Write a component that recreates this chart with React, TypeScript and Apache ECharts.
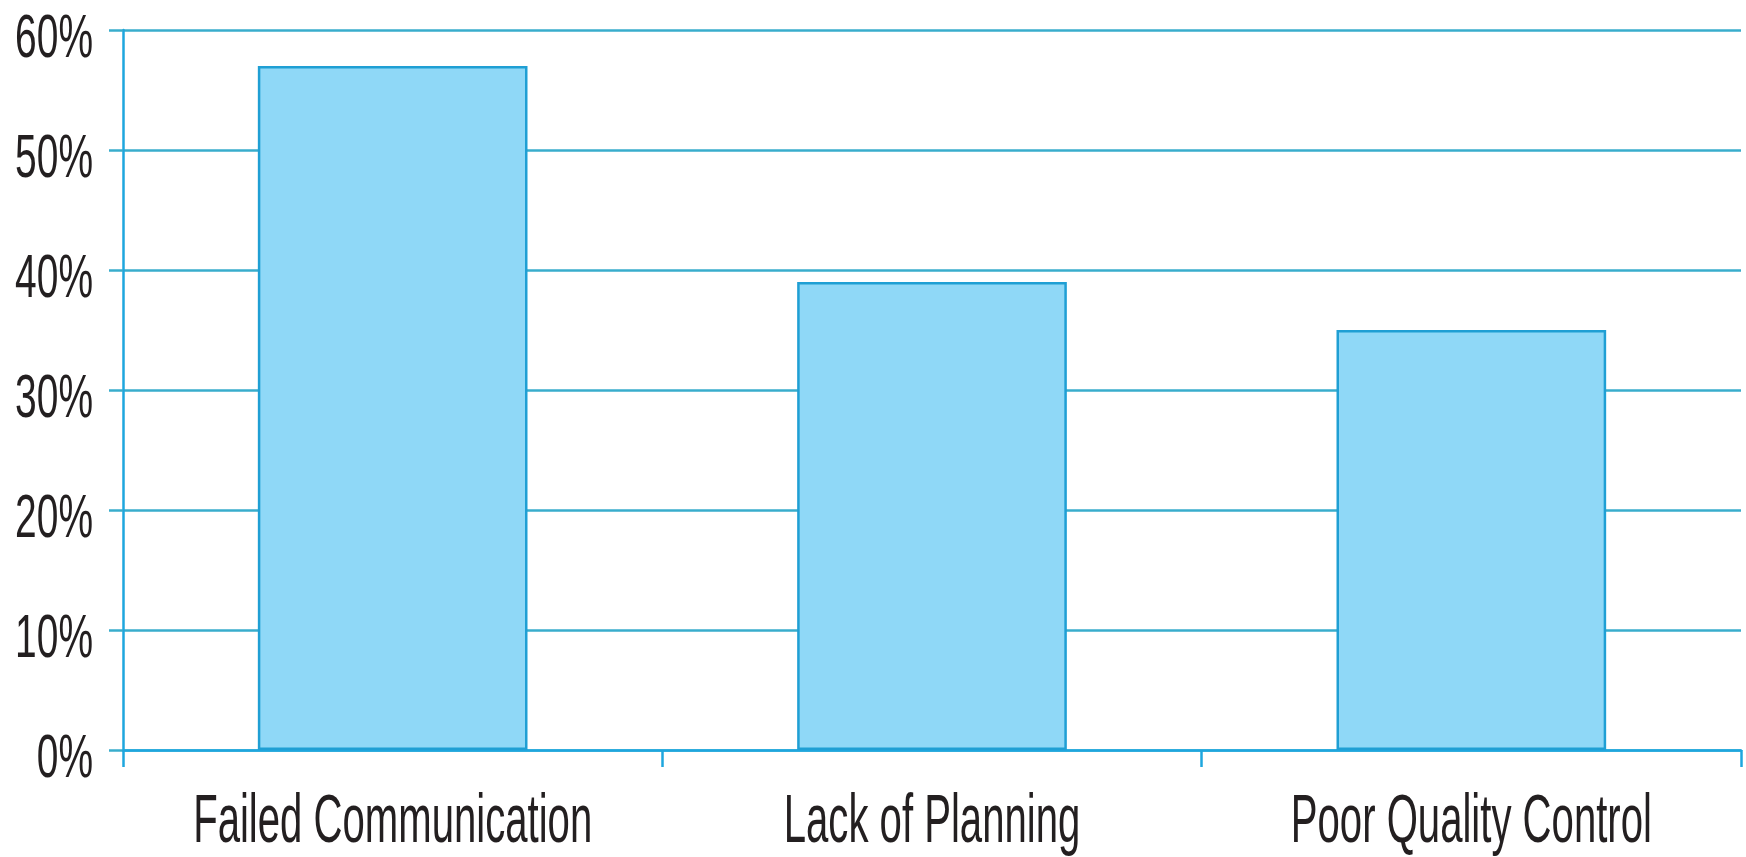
import React, { useEffect, useRef } from "react";
import * as echarts from "echarts";

const categories = ["Failed Communication", "Lack of Planning", "Poor Quality Control"];
const values = [57, 39, 35];
const yTicks = [0, 10, 20, 30, 40, 50, 60];

export default function App() {
  const ref = useRef<HTMLDivElement>(null);

  useEffect(() => {
    const chart = echarts.init(ref.current!, null, { renderer: "svg" });
    chart.setOption({
      animation: false,
      backgroundColor: "#ffffff",
      grid: { left: 123, right: 5, top: 30, bottom: 107, containLabel: false },
      xAxis: {
        type: "category",
        data: categories,
        boundaryGap: true,
        axisLine: { show: true, lineStyle: { color: "#1ea6de", width: 2.5 } },
        axisTick: { show: true, length: 17, lineStyle: { color: "#1ea6de", width: 2.5 } },
        axisLabel: { show: false },
        splitLine: { show: false },
      },
      yAxis: {
        type: "value",
        min: 0,
        max: 60,
        interval: 10,
        axisLine: { show: true, lineStyle: { color: "#1ea6de", width: 2.5 } },
        axisTick: { show: true, length: 14, lineStyle: { color: "#38adcc", width: 2.5 } },
        axisLabel: { show: false },
        splitLine: { show: true, lineStyle: { color: "#38adcc", width: 2.5 } },
      },
      series: [
        {
          type: "bar",
          data: values,
          barWidth: "50%",
          itemStyle: { color: "#8fd8f7", borderColor: "#1f9fd4", borderWidth: 2.5 },
        },
      ],
    });

    const font = "'Liberation Sans', Arial, Helvetica, sans-serif";
    const graphics: any[] = [];
    const leftEdge = 123;
    yTicks.forEach((v) => {
      const py = chart.convertToPixel({ yAxisIndex: 0 }, v) as number;
      graphics.push({
        type: "text",
        x: leftEdge - 30,
        y: py + 5,
        scaleX: 0.628,
        style: {
          text: v + "%",
          align: "right",
          verticalAlign: "middle",
          fontSize: 62,
          lineHeight: 48,
          fontFamily: font,
          fill: "#231f20",
        },
      });
    });
    categories.forEach((c) => {
      const px = chart.convertToPixel({ xAxisIndex: 0 }, c) as number;
      graphics.push({
        type: "text",
        x: px,
        y: 818,
        scaleX: 0.59,
        style: {
          text: c,
          align: "center",
          verticalAlign: "middle",
          fontSize: 68,
          lineHeight: 60,
          fontFamily: font,
          fill: "#231f20",
        },
      });
    });
    chart.setOption({ graphic: graphics });

    return () => chart.dispose();
  }, []);

  return (
    <div
      ref={ref}
      style={{ position: "fixed", left: 0, top: 0, width: 1746, height: 857, background: "#fff" }}
    />
  );
}
